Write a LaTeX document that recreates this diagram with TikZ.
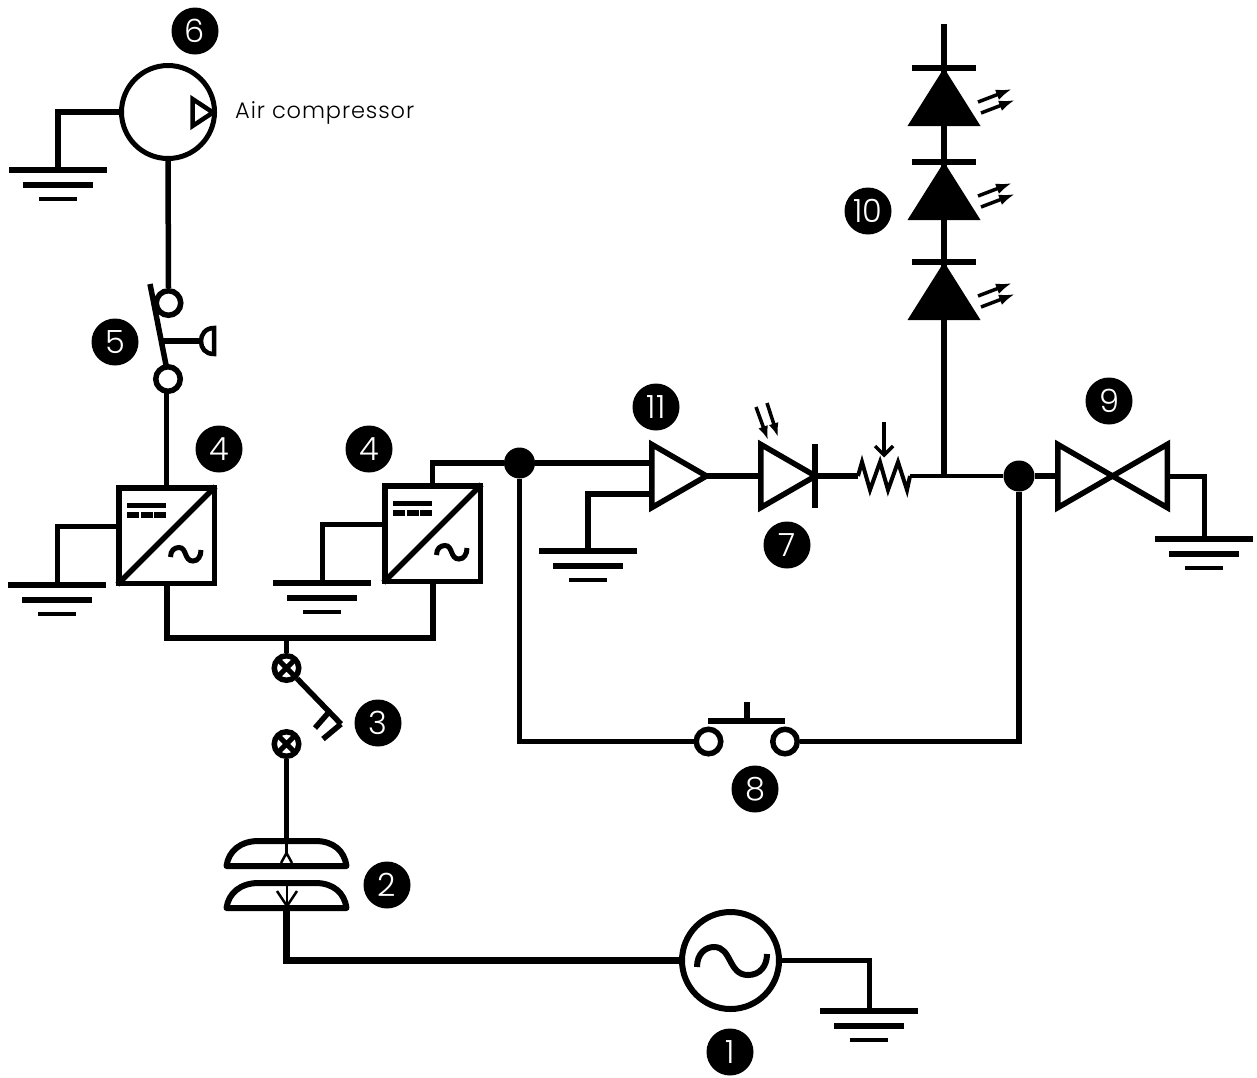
\documentclass[tikz,border=0pt]{standalone}
\usepackage{fontspec}
\setmainfont[UprightFont=* Light]{Poppins}
\usetikzlibrary{arrows.meta,shapes.geometric}

\begin{document}
\begin{tikzpicture}[
	x=1pt, y=-1pt,
	badge/.style={
		circle,
		fill=black,
		text=white,
		inner sep=0pt,
		minimum size=47pt,
		font=\fontsize{32}{32}\selectfont,
	},
	convbox/.style={
		rectangle,
		draw,
		line width=5.5pt,
		minimum size=95.5pt,
	},
	contact/.style={
		circle,
		draw,
		line width=5.5pt,
		minimum size=24.5pt,
	},
	keycontact/.style={
		contact,
		path picture={\draw[line width=5pt]
			(path picture bounding box.north west) -- (path picture bounding box.south east)
			(path picture bounding box.south west) -- (path picture bounding box.north east);},
	},
	junction/.style={
		circle,
		fill=black,
		inner sep=0pt,
		minimum size=31pt,
	},
	triangle/.style={% Equilateral outline, tip set by the rotation
		regular polygon,
		regular polygon sides=3,
		draw,
		line width=5.5pt,
		outer sep=0pt,
		minimum size=73pt,
	},
	wire/.style={line width=5.5pt},
	wirethin/.style={line width=5pt},
	wirethick/.style={line width=7.5pt},
	ground/.pic={
		\draw[line width=6pt] (-49,0) -- (49,0);
		\draw[line width=6pt] (-35,15) -- (35,15);
		\draw[line width=4pt] (-19,29) -- (19,29);
	},
	convmarks/.pic={
		\draw[line width=5pt] (-39.5,-30) -- (-0.5,-30);
		\draw[line width=5.5pt] (-39.5,-20.5) -- (-27.5,-20.5);
		\draw[line width=5.5pt] (-25.5,-20.5) -- (-13.5,-20.5);
		\draw[line width=5.5pt] (-12.5,-20.5) -- (-0.5,-20.5);
		\draw[line width=5pt] (4,21.5) .. controls (4,15) and (8,12) .. (12.5,12)
			.. controls (20.5,12) and (17.5,25.5) .. (26.5,25.5)
			.. controls (31.5,25.5) and (34.5,20.5) .. (34.5,14.5);
	},
	dome/.pic={
		\draw[line width=6pt, line join=round] (-60,26) -- (60,26)
			.. controls (58,11) and (47,1) .. (29,1) -- (-28,1)
			.. controls (-46,1) and (-58,11) .. (-60,26) -- cycle;
	},
	led/.pic={
		\fill (-36.5,58) -- (36.5,58) -- (0,0) -- cycle;
		\draw[line width=6pt] (-32,0) -- (32,0);
		\draw[-{Latex[length=16pt,width=11pt]}, line width=3.5pt] (34,34) -- (68,21);
		\draw[-{Latex[length=16pt,width=11pt]}, line width=3.5pt] (37,45) -- (71,32);
	},
]
\useasboundingbox (0,0) rectangle (1257,1077);

\node[circle, draw, line width=5pt, minimum size=93pt] (comp) at (168,112) {};
\node[contact] (swtop) at (168.5,303) {};
\node[contact] (swbot) at (168,379) {};
\node[convbox] (conv1) at (166.5,535.5) {};
\node[convbox] (conv2) at (432.5,533.5) {};
\node[keycontact] (key1) at (286.5,668) {};
\node[keycontact] (key2) at (286.5,744) {};
\node[circle, draw, line width=6pt, minimum size=97pt] (gen) at (730.5,960.5) {};
\node[junction] (dot1) at (519.5,463) {};
\node[junction] (dot2) at (1019,476) {};
\node[triangle, shape border rotate=-90] (buf) at (670,476) {};
\node[triangle, shape border rotate=-90] (pd) at (779,476) {};
\node[triangle, shape border rotate=-90] (valve1) at (1076,476) {};
\node[triangle, shape border rotate=90] (valve2) at (1149,476) {};
\node[contact] (btn1) at (708.5,741.5) {};
\node[contact] (btn2) at (785,741.5) {};

\node[badge] (n6) at (195,31) {6};
\node[badge] (n5) at (115,342) {5};
\node[badge] (n4a) at (219,449) {4};
\node[badge] (n4b) at (369,449) {4};
\node[badge] (n3) at (378,723) {3};
\node[badge] (n2) at (387,885) {2};
\node[badge] (n1) at (730,1052) {1};
\node[badge] (n11) at (656,407) {11};
\node[badge] (n7) at (787,545) {7};
\node[badge] (n8) at (755,789) {8};
\node[badge] (n9) at (1109,401) {9};
\node[badge] (n10) at (868,211) {10};
\node[font=\fontsize{22.5}{22.5}\selectfont, anchor=base west, inner sep=0pt] (aircomp) at (235,118) {\addfontfeature{LetterSpace=4}Air compressor};

\coordinate (g1) at (58,170);
\coordinate (g2) at (57,585);
\coordinate (g3) at (322,583);
\coordinate (g4) at (588,551);
\coordinate (g5) at (1204,539);
\coordinate (g6) at (869,1011);
\pic at (g1) {ground};
\pic at (g2) {ground};
\pic at (g3) {ground};
\pic at (g4) {ground};
\pic at (g5) {ground};
\pic at (g6) {ground};

\draw[wire] (comp.west) -| (g1);
\draw[wire] (comp.south) -- (swtop.north);
\draw[wire] (swbot.south) -- (conv1.north |- swbot.south) -- (conv1.north);
\draw[wirethin] (conv1.170) -| (g2);
\draw[wirethin] (conv2.170) -| (g3);

% compressor arrow
\draw[line width=4.5pt] (192.5,99) -- (192.5,126) -- (213,112.5) -- cycle;

% lever with push head
\draw[wire] (150,284) -- (166,365);
\draw[wire] (163,341) -- (201,341);
\draw[line width=4.5pt] (214,328) .. controls (205,328) and (201,335) .. (201,341)
	.. controls (201,348) and (205,354) .. (214,354) -- cycle;

% converters
\draw[wire, shorten >=2pt, shorten <=2pt] (conv1.south west) -- (conv1.north east);
\draw[wire, shorten >=2pt, shorten <=2pt] (conv2.south west) -- (conv2.north east);
\pic at (conv1) {convmarks};
\pic at (conv2) {convmarks};

% bus and key
\coordinate (bus) at (286.5,637.5);
\coordinate (keytip) at (341,724);
\draw[line width=6pt] (conv1.south) |- (bus) -| (conv2.south);
\draw[wire] (bus) -- (key1.north);
\draw[wire] (key1.south east) -- (keytip);
\draw[wire] (keytip) -- (323,739);
\draw[wire] (329,712) -- (315,728);

% coupling
\pic at (286.5,840) {dome};
\pic at (286.5,882) {dome};
\coordinate (domeA) at (286.5,840);
\coordinate (domeB) at (286.5,908);
\coordinate (genin) at (286.5,960.5);
\draw[wire] (key2.south) -- (domeA);
\draw[line width=2.5pt] (domeA) -- (286.5,853);
\draw[line width=2.5pt] (281,863) -- (286.5,853) -- (292,863);
\draw[line width=2.5pt] (287,883) -- (287,906);
\draw[line width=2.5pt] (277,891) -- (287,906) -- (297,891);
\draw[wirethick] (domeB) -- (genin) -- (gen.west);
\draw[wirethin] (gen.east) -| (g6);
\draw[line width=6pt] (697,967) .. controls (697,953) and (706,947) .. (714,947)
	.. controls (732,947) and (728,975) .. (748,975)
	.. controls (760,975) and (767,966) .. (767,954);

% right hand loop
\draw[wire] (conv2.north) |- (dot1) -- (buf.west |- dot1);
\draw[wire] (g4) |- (buf.west |- 588,494);
\draw[wire] (buf.east) -- (pd.west);
\draw[wire] (dot1) |- (btn1.west);
\draw[wire] (btn2.east) -| (dot2);

% button
\coordinate (btnbar) at (746.5,721);
\draw[line width=6pt] (708,721) -- (785,721);
\draw[line width=6pt] (btnbar) -- (746.5,702);

% photodiode
\draw[line width=6pt] (815,444) -- (815,508);
\draw[-{Latex[length=14pt,width=10pt]}, line width=3.5pt] (756,407) -- (768,440);
\draw[-{Latex[length=14pt,width=10pt]}, line width=3.5pt] (767,403) -- (778,437);

% variable resistor
\coordinate (resin) at (858,476);
\coordinate (resout) at (910,476);
\coordinate (tap) at (944,476);
\draw[wire] (815,476) -- (resin);
\draw[line width=4pt] (resin) -- (862,462) -- (870,490) -- (880,462) -- (888,490) -- (898,462) -- (907,490) -- (resout);
\draw[line width=4pt] (resout) -- (dot2);
\draw[line width=3.5pt] (884,422) -- (884,455);
\draw[line width=3.5pt] (875,446) -- (884,455) -- (893,446);

% leds
\coordinate (ledtop) at (944,24);
\coordinate (ledbot) at (944,350);
\draw[line width=6pt] (ledtop) -- (ledbot);
\draw[wire] (ledbot) -- (tap);
\pic at (944,68) {led};
\pic at (944,162) {led};
\pic at (944,262) {led};

% valve
\draw[line width=6pt] (dot2) -- (valve1.west);
\draw[wirethin] (valve2.east) -| (g5);

\end{tikzpicture}
\end{document}
